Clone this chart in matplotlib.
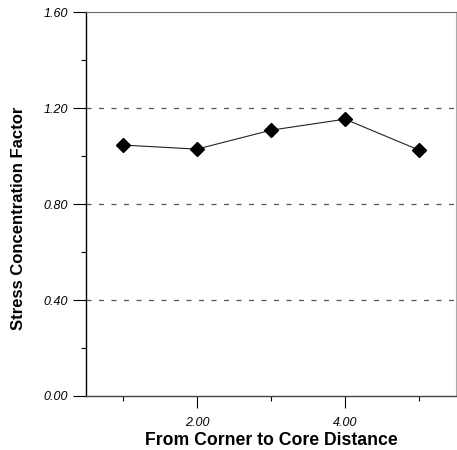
import matplotlib
matplotlib.use("Agg")
import matplotlib.pyplot as plt
from matplotlib.ticker import FixedLocator

plt.rcParams['font.family'] = ['Liberation Sans', 'DejaVu Sans']

# data
distance = [1, 2, 3, 4, 5]
scf = [1.046, 1.029, 1.108, 1.154, 1.025]

y_major = [0.0, 0.4, 0.8, 1.2, 1.6]
y_minor = [0.2, 0.6, 1.0, 1.4]
y_labels = ['0.00', '0.40', '0.80', '1.20', '1.60']
x_major = [2, 4]
x_minor = [1, 3, 5]
x_labels = ['2.00', '4.00']

fig = plt.figure(figsize=(4.57, 4.5), dpi=100)
ax = fig.add_axes([0.188, 0.12, 0.81, 0.853])

# dashed reference lines
for yv in y_major[1:4]:
    ax.axhline(yv, color='#555555', lw=0.9, ls=(0, (4, 6)), zorder=1)

ax.plot(distance, scf, color='#222222', lw=0.8, marker='D', ms=7.5,
        markerfacecolor='black', markeredgecolor='black', zorder=3)

ax.set_xlim(0.5, 5.5)
ax.set_ylim(0.0, 1.6)

ax.yaxis.set_major_locator(FixedLocator(y_major))
ax.yaxis.set_minor_locator(FixedLocator(y_minor))
ax.set_yticklabels(y_labels, fontstyle='italic', fontsize=9)
ax.xaxis.set_major_locator(FixedLocator(x_major))
ax.xaxis.set_minor_locator(FixedLocator(x_minor))
ax.set_xticklabels(x_labels, fontstyle='italic', fontsize=9)

ax.tick_params(axis='y', which='major', length=9.4, width=0.8, pad=3.5)
ax.tick_params(axis='y', which='minor', length=3.5, width=0.8)
ax.tick_params(axis='x', which='major', length=8.6, width=0.8, pad=6.5)
ax.tick_params(axis='x', which='minor', length=3.5, width=0.8)

for side in ['top', 'right']:
    ax.spines[side].set_linewidth(0.8)
ax.spines['top'].set_color('#666666')
ax.spines['right'].set_color('#aaaaaa')
ax.spines['left'].set_linewidth(1.0)
ax.spines['bottom'].set_linewidth(1.0)
ax.spines['bottom'].set_color('#444444')

ax.set_xlabel('From Corner to Core Distance', fontsize=12.7, fontweight='bold', labelpad=2)
ax.set_ylabel('Stress Concentration Factor', fontsize=12, fontweight='bold')
ax.yaxis.set_label_coords(-0.162, 0.462)

fig.savefig('out.png', dpi=100)
